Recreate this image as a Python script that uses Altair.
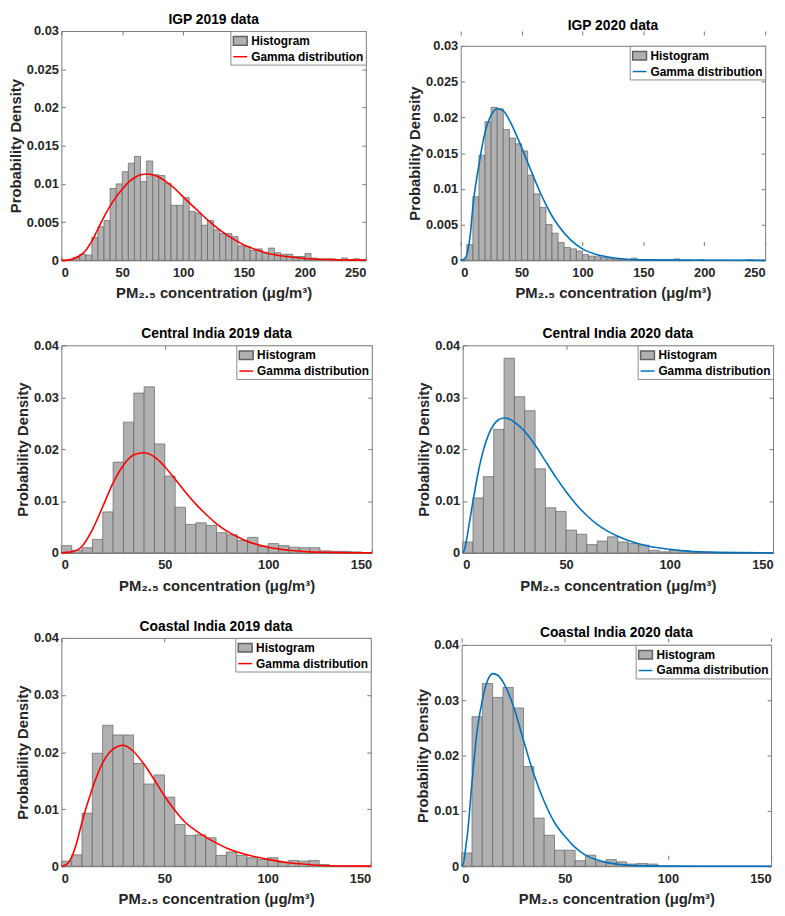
import altair as alt
import pandas as pd

FONT = "Liberation Sans"
SERIES = ["Histogram", "Gamma distribution"]
XTITLE = "PM\u2082.\u2085 concentration (\u03bcg/m\u00b3)"
YTITLE = "Probability Density"

# ---- histogram densities (bins of width 5 starting at 0) ----
igp19_dens = [0.0, 0.0001, 0.0004, 0.0008, 0.0007, 0.003, 0.0044, 0.0052, 0.0094, 0.010,
              0.0116, 0.0127, 0.0136, 0.0103, 0.013, 0.0112, 0.0111, 0.0101, 0.0072, 0.0072,
              0.0082, 0.0064, 0.0062, 0.0046, 0.0052, 0.004, 0.0035, 0.0035, 0.0031, 0.0019,
              0.0018, 0.0013, 0.0015, 0.001, 0.0016, 0.001, 0.0008, 0.0008, 0.0005, 0.0005,
              0.0009, 0.0003, 0.0002, 0.0002, 0.0002, 0.0001, 0.0003, 0.0001, 0.0002, 0.0001]
igp20_dens = [0.0001, 0.0022, 0.0089, 0.0147, 0.0194, 0.0214, 0.0212, 0.0183, 0.0171, 0.0163,
              0.0153, 0.0119, 0.0093, 0.0074, 0.005, 0.0038, 0.0025, 0.0018, 0.0016, 0.0013,
              0.0008, 0.0006, 0.0005, 0.0004, 0.0003, 0.0002, 0.0001, 0.0001, 0.0003, 0.0001,
              0.0001, 0.00005, 0.00005, 0.0, 0.00005, 0.0002, 0.0, 0.00005, 0.0, 0.0001,
              0.0, 0.0, 0.0, 0.0, 0.0, 0.0, 0.0, 0.0001, 0.0, 0.0]
cen19_dens = [0.0014, 0.0005, 0.001, 0.0026, 0.0079, 0.0175, 0.0252, 0.0308, 0.032, 0.021,
              0.0148, 0.0088, 0.0055, 0.0058, 0.0053, 0.0039, 0.0035, 0.0024, 0.003, 0.0013,
              0.0018, 0.0014, 0.0011, 0.001, 0.001, 0.0004, 0.0003, 0.0003, 0.0002, 0.0]
cen20_dens = [0.0021, 0.0106, 0.0147, 0.0238, 0.0375, 0.0301, 0.0274, 0.0162, 0.0087, 0.008,
              0.0044, 0.0036, 0.0016, 0.0023, 0.0031, 0.0021, 0.0018, 0.0015, 0.0005, 0.0002,
              0.0005, 0.0004, 0.0002, 0.0001, 0.00005, 0.0, 0.0, 0.0, 0.0, 0.0]
coa19_dens = [0.0009, 0.002, 0.0093, 0.0198, 0.0247, 0.023, 0.023, 0.018, 0.0144, 0.016,
              0.0121, 0.0073, 0.0054, 0.0055, 0.005, 0.0019, 0.0025, 0.0019, 0.0015, 0.0012,
              0.0015, 0.0007, 0.001, 0.0009, 0.001, 0.0003, 0.0001, 0.0, 0.0, 0.0]
coa20_dens = [0.0024, 0.027, 0.033, 0.0305, 0.0323, 0.0286, 0.018, 0.0087, 0.0056, 0.0029,
              0.0029, 0.001, 0.002, 0.0008, 0.0012, 0.0008, 0.0004, 0.0005, 0.0004, 0.0,
              0.0, 0.0, 0.0, 0.0, 0.0, 0.0, 0.0, 0.0, 0.0, 0.0]

# ---- fitted gamma curves ----
igp19_cx = [0, 5, 10, 15, 20, 25, 30, 35, 40, 45, 50, 55, 60, 65, 70, 75, 80, 85, 90, 95,
            100, 110, 120, 130, 140, 150, 160, 170, 180, 190, 200, 210, 220, 230, 240, 250]
igp19_cy = [0, 0.00003, 0.0002, 0.0006, 0.0013, 0.0025, 0.0041, 0.0057, 0.0071, 0.0083,
            0.0093, 0.0102, 0.0108, 0.0112, 0.0113, 0.0112, 0.0109, 0.0104, 0.0098, 0.0091,
            0.0083, 0.0068, 0.0053, 0.004, 0.0029, 0.002, 0.0014, 0.0009, 0.0006, 0.0004,
            0.00025, 0.00015, 0.0001, 0.00005, 0.00003, 0.00002]
igp20_cx = [0, 3, 5, 8, 10, 15, 20, 25, 30, 35, 40, 45, 50, 55, 60, 65, 70, 75, 80, 90,
            100, 110, 120, 130, 150, 200, 250]
igp20_cy = [0, 0.0002, 0.0008, 0.0038, 0.0075, 0.0134, 0.0179, 0.0203, 0.0212, 0.0209,
            0.0196, 0.0178, 0.0158, 0.0137, 0.0116, 0.0096, 0.0078, 0.0062, 0.0049, 0.0029,
            0.0016, 0.0009, 0.0005, 0.00025, 0.00006, 0.000002, 0]
cen19_cx = [0, 5, 10, 15, 20, 25, 30, 35, 40, 45, 50, 55, 60, 65, 70, 75, 80, 85, 90, 100,
            110, 120, 130, 140, 150]
cen19_cy = [0, 0.0002, 0.0013, 0.0045, 0.0089, 0.0135, 0.0169, 0.0189, 0.0193, 0.0185,
            0.0166, 0.0142, 0.0117, 0.0094, 0.0074, 0.0056, 0.0042, 0.0031, 0.0022, 0.0011,
            0.0005, 0.0002, 0.0001, 0.00004, 0.00002]
cen20_cx = [0, 1, 2, 3, 5, 7.5, 10, 12.5, 15, 17.5, 20, 22.5, 25, 30, 35, 40, 45, 50, 55, 60,
            65, 70, 75, 80, 90, 100, 110, 120, 135, 150]
cen20_cy = [0, 0.0008, 0.0028, 0.0052, 0.0100, 0.0155, 0.0198, 0.0228, 0.0247, 0.0257,
            0.026, 0.0258, 0.0252, 0.0234, 0.0208, 0.0177, 0.0146, 0.0118, 0.0093, 0.0072,
            0.0055, 0.0042, 0.0032, 0.0024, 0.0013, 0.0007, 0.0003, 0.00015, 0.00005, 0.00001]
coa19_cx = [0, 2.5, 5, 7.5, 10, 15, 20, 25, 30, 35, 40, 45, 50, 55, 60, 65, 70, 75, 80, 90,
            100, 110, 120, 130, 150]
coa19_cy = [0, 0.0003, 0.0016, 0.0042, 0.0077, 0.0136, 0.0181, 0.0205, 0.0212, 0.0201,
            0.0179, 0.0152, 0.0123, 0.0098, 0.0077, 0.0063, 0.0051, 0.0041, 0.0032, 0.002,
            0.0012, 0.0006, 0.0003, 0.0001, 0.00002]
coa20_cx = [0, 1, 2, 3, 5, 7.5, 10, 12.5, 15, 17.5, 20, 25, 30, 35, 40, 45, 50, 55, 60, 65,
            70, 80, 90, 100, 120, 150]
coa20_cy = [0, 0.0008, 0.0035, 0.0065, 0.0152, 0.0245, 0.0300, 0.0335, 0.0348, 0.0345,
            0.0333, 0.029, 0.0227, 0.0166, 0.0117, 0.0079, 0.0054, 0.0034, 0.002, 0.0012,
            0.0007, 0.0002, 0.00006, 0.00002, 0, 0]

X250 = [0, 50, 100, 150, 200, 250]
X150 = [0, 50, 100, 150]
Y03 = [0, 0.005, 0.01, 0.015, 0.02, 0.025, 0.03]
Y04 = [0, 0.01, 0.02, 0.03, 0.04]

RED = "#ff0000"
BLUE = "#0072bd"
EDGE = "#7a7a7a"
RECT = "M-1,-0.62H1V0.62H-1Z"
DASH = "M-1,0H1"
LEGW = 137


def panel(title, dens, cx, cy, color, xmax, ymax, xticks, yticks, w, h, gap=0):
    lefts = list(range(0, xmax, 5))
    hist = pd.DataFrame({"lo": lefts, "hi": [v + 5 for v in lefts], "dens": dens,
                         "base": [0.0] * len(lefts)})
    curve = pd.DataFrame({"pm": cx, "pdf": cy})
    keys = pd.DataFrame({"series": SERIES})
    hd = h - gap
    xs = alt.Scale(domain=[0, xmax], nice=False, zero=True)
    ys = alt.Scale(domain=[0, ymax], nice=False, zero=True, range=[h, gap])
    xa = alt.Axis(values=xticks, title=XTITLE, format="~r", grid=True,
                  gridDash=[4, hd - 8, 4, 3000])
    ya = alt.Axis(values=yticks, title=YTITLE, format="~r", grid=True,
                  gridDash=[4, w - 8, 4, 3000])
    xa_top = alt.Axis(orient="top", offset=-gap, labels=False, grid=False, title=None,
                      values=xticks)
    ya_right = alt.Axis(orient="right", labels=False, grid=False, title=None, values=yticks)
    bars = alt.Chart(hist).mark_bar(fill="#b0b0b0", stroke="#626262", strokeWidth=0.7).encode(
        x=alt.X("lo:Q", scale=xs, axis=xa), x2="hi:Q",
        y=alt.Y("dens:Q", scale=ys, axis=ya), y2="base:Q")
    line = alt.Chart(curve).mark_line(color=color, strokeWidth=1.6, interpolate="monotone").encode(
        x=alt.X("pm:Q", scale=xs, axis=xa_top),
        y=alt.Y("pdf:Q", scale=ys, axis=ya_right))
    if gap:
        leg = alt.Legend(title=None, orient="none", legendX=w - LEGW, legendY=gap)
    else:
        leg = alt.Legend(title=None, orient="top-right")
    key = alt.Chart(keys).mark_point(opacity=0).encode(
        fill=alt.Fill("series:N", scale=alt.Scale(domain=SERIES, range=["#b0b0b0", "#ffffff"]), legend=leg),
        stroke=alt.Stroke("series:N", scale=alt.Scale(domain=SERIES, range=["#626262", color]), legend=leg),
        shape=alt.Shape("series:N", scale=alt.Scale(domain=SERIES, range=[RECT, DASH]), legend=leg))
    t = alt.TitleParams(text=title, frame="group", offset=-2)
    return alt.layer(bars, line, key).resolve_axis(x="independent", y="independent").properties(
        width=w, height=h, title=t)


def indep(c):
    return c.resolve_scale(fill="independent", stroke="independent", shape="independent")


row1 = indep(alt.hconcat(
    panel("IGP 2019 data", igp19_dens, igp19_cx, igp19_cy, RED, 250, 0.03, X250, Y03, 308, 232),
    panel("IGP 2020 data", igp20_dens, igp20_cx, igp20_cy, BLUE, 250, 0.03, X250, Y03, 308, 232, gap=15),
    spacing=38))
row2 = indep(alt.hconcat(
    panel("Central India 2019 data", cen19_dens, cen19_cx, cen19_cy, RED, 150, 0.04, X150, Y04, 314, 210),
    panel("Central India 2020 data", cen20_dens, cen20_cx, cen20_cy, BLUE, 150, 0.04, X150, Y04, 314, 210),
    spacing=41))
row3 = indep(alt.hconcat(
    panel("Coastal India 2019 data", coa19_dens, coa19_cx, coa19_cy, RED, 150, 0.04, X150, Y04, 313, 231),
    panel("Coastal India 2020 data", coa20_dens, coa20_cx, coa20_cy, BLUE, 150, 0.04, X150, Y04, 313, 231, gap=7),
    spacing=41))

chart = indep(alt.vconcat(row1, row2, row3, spacing=27)).properties(
    padding={"left": 0, "top": 0, "right": 0, "bottom": 0}
).configure_view(
    strokeWidth=0
).configure_axis(
    labelFont=FONT, labelFontSize=13, labelFontWeight="bold", labelColor="#262626",
    titleFont=FONT, titleFontSize=15, titleFontWeight="bold", titleColor="#262626",
    domain=True, domainColor=EDGE, domainWidth=1,
    ticks=False, gridColor="#555555", gridWidth=0.8, gridOpacity=1
).configure_axisX(
    labelPadding=6, titlePadding=7
).configure_axisY(
    labelPadding=3, titlePadding=3
).configure_title(
    font=FONT, fontSize=14, fontWeight="bold", color="#000000", anchor="middle"
).configure_legend(
    offset=0, padding=2, strokeColor="#8a8a8a", fillColor="#ffffff",
    cornerRadius=0, labelFont=FONT, labelFontSize=12, labelFontWeight="bold",
    labelColor="#000000", labelOffset=3, rowPadding=0, symbolSize=196,
    symbolStrokeWidth=1.5, symbolStrokeColor="#626262", symbolOpacity=1
)

chart.save("out.html", embed_options={"renderer": "svg", "actions": False})
